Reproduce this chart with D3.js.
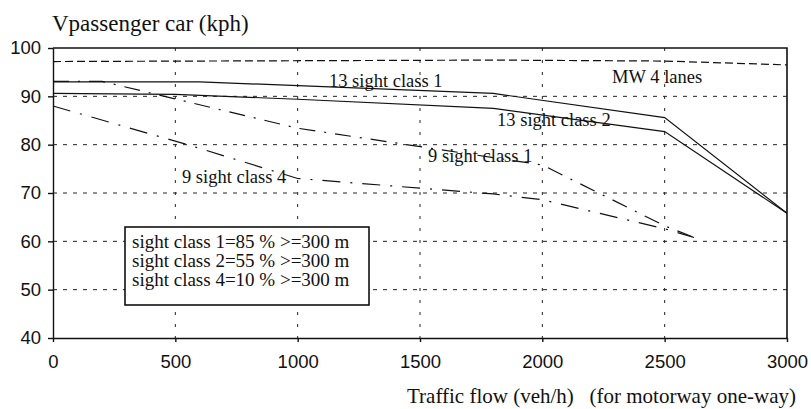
<!DOCTYPE html>
<html lang="en">

<head>
    <meta charset="UTF-8">
    <script type="text/javascript" src="https://d3js.org/d3.v7.min.js"></script>
    <title>Passenger car speed vs traffic flow</title>

    <style>
        body { margin: 0; background: #fff; }
        .line { fill: none; stroke: #111; stroke-width: 1.2px; }
        .grid { stroke: #222; stroke-width: 1px; }
        text.serif { font-family: "Liberation Serif", "Times New Roman", serif; fill: #111; }
        .axis text { font-family: "Liberation Sans", Arial, sans-serif; font-size: 18.5px; fill: #111; }
        .axis path, .axis line { stroke: #111; stroke-width: 1.4px; }
    </style>
</head>

<body>
    <script>
        // Tick values for each axis
        var xTicks = [0, 500, 1000, 1500, 2000, 2500, 3000];
        var yTicks = [40, 50, 60, 70, 80, 90, 100];

        // Series: [flow veh/h, speed kph]
        var mw4Lanes = [[0, 97.2], [1800, 97.5], [2500, 97.3], [3000, 96.5]];
        var sight13Class1 = [[0, 93], [600, 93], [1800, 90.6], [2500, 85.6], [3000, 65.8]];
        var sight13Class2 = [[0, 90.6], [500, 90.4], [1000, 89.4], [1800, 87.5], [2500, 82.7], [3000, 65.8]];
        var sight9Class1 = [[0, 93.1], [200, 93.1], [1000, 83.4], [2000, 75.8], [2500, 63.2], [2620, 60.8]];
        var sight9Class4 = [[0, 88], [550, 80], [1000, 73], [1200, 72.2], [1800, 69.8], [2000, 68.6], [2500, 62.6], [2620, 60.8]];

        // Curve labels, anchored in data units (left edge, baseline)
        var curveLabels = [
            { text: "13 sight class 1", flow: 1128, speed: 91.9 },
            { text: "MW 4 lanes", flow: 2285, speed: 92.8 },
            { text: "13 sight class 2", flow: 1815, speed: 83.8 },
            { text: "9 sight class 1", flow: 1533, speed: 76.4 },
            { text: "9 sight class 4", flow: 527, speed: 72.1 }
        ];

        var legendLines = [
            "sight class 1=85 % >=300 m",
            "sight class 2=55 % >=300 m",
            "sight class 4=10 % >=300 m"
        ];

        var serifFont = "'Liberation Serif', 'Times New Roman', serif";

        // Set the dimensions and margins of the graph
        var margin = { top: 48, right: 24, bottom: 71, left: 53 },
            width = 811 - margin.left - margin.right,
            height = 409 - margin.top - margin.bottom;

        var x = d3.scaleLinear().domain([0, 3000]).range([0, width]);
        var y = d3.scaleLinear().domain([40, 100]).range([height, 0]);

        var line = d3.line()
            .x(function (d) { return x(d[0]); })
            .y(function (d) { return y(d[1]); });

        var root = d3.select("body")
            .append("svg")
            .attr("width", 811)
            .attr("height", 409);

        // y axis title, top left
        root.append("text")
            .attr("class", "serif")
            .style("font-family", serifFont)
            .style("font-size", "23px")
            .attr("x", 52).attr("y", 31)
            .text("Vpassenger car (kph)");

        var svg = root.append("g")
            .attr("transform", "translate(" + margin.left + "," + margin.top + ")");

        // Dashed grid
        svg.selectAll(".hgrid")
            .data(yTicks.filter(function (d) { return d > 40 && d < 100; }))
            .enter().append("line")
            .attr("class", "grid")
            .attr("x1", 0).attr("x2", width)
            .attr("y1", function (d) { return y(d); })
            .attr("y2", function (d) { return y(d); })
            .attr("stroke-dasharray", "4,6");

        svg.selectAll(".vgrid")
            .data(xTicks.filter(function (d) { return d > 0 && d < 3000; }))
            .enter().append("line")
            .attr("class", "grid")
            .attr("x1", function (d) { return x(d); })
            .attr("x2", function (d) { return x(d); })
            .attr("y1", 0).attr("y2", height)
            .attr("stroke-dasharray", "3,9");

        // Series
        var series = [
            { data: mw4Lanes, dash: "8,4", w: 1.4 },
            { data: sight13Class1, dash: null, w: 1.2 },
            { data: sight13Class2, dash: null, w: 1.2 },
            { data: sight9Class1, dash: "16,9,2,9", w: 1.2 },
            { data: sight9Class4, dash: "18,10,2,10", w: 1.2 }
        ];

        series.forEach(function (s) {
            svg.append("path")
                .datum(s.data)
                .attr("class", "line")
                .attr("stroke-width", s.w)
                .attr("stroke-dasharray", s.dash)
                .attr("d", line);
        });

        // Frame on top and right
        svg.append("path")
            .attr("d", "M0,0H" + width + "V" + height)
            .attr("fill", "none")
            .attr("stroke", "#111")
            .attr("stroke-width", 1.6);

        // Axes
        svg.append("g")
            .attr("class", "axis")
            .attr("transform", "translate(0," + height + ")")
            .call(d3.axisBottom(x).tickValues(xTicks).tickFormat(d3.format("d"))
                .tickSize(4).tickPadding(13).tickSizeOuter(0));

        svg.append("g")
            .attr("class", "axis")
            .call(d3.axisLeft(y).tickValues(yTicks).tickFormat(d3.format("d"))
                .tickSize(5).tickPadding(7).tickSizeOuter(0));

        // Curve labels
        svg.selectAll(".clabel")
            .data(curveLabels)
            .enter().append("text")
            .attr("class", "serif")
            .style("font-family", serifFont)
            .style("font-size", "18.5px")
            .attr("x", function (d) { return x(d.flow); })
            .attr("y", function (d) { return y(d.speed); })
            .text(function (d) { return d.text; });

        // Legend box
        var legend = root.append("g").attr("transform", "translate(125,227)");
        legend.append("rect")
            .attr("width", 244).attr("height", 78)
            .attr("fill", "#fff")
            .attr("stroke", "#111")
            .attr("stroke-width", 1.6);
        legend.selectAll("text")
            .data(legendLines)
            .enter().append("text")
            .attr("class", "serif")
            .style("font-family", serifFont)
            .style("font-size", "19px")
            .attr("x", 7)
            .attr("y", function (d, i) { return 21 + i * 19.2; })
            .text(function (d) { return d; });

        // x axis title
        root.append("text")
            .attr("class", "serif")
            .style("font-family", serifFont)
            .style("font-size", "21px")
            .attr("x", 407).attr("y", 403)
            .style("white-space", "pre")
            .text("Traffic flow (veh/h)   (for motorway one-way)");
    </script>
</body>

</html>
